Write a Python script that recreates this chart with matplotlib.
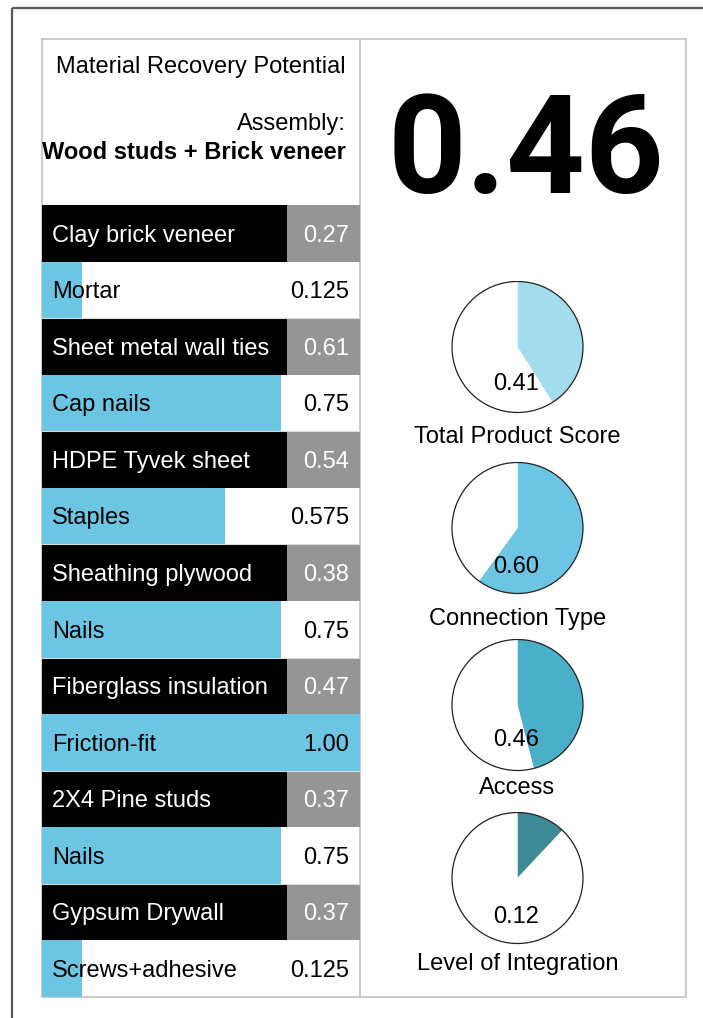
import matplotlib
matplotlib.use("Agg")
import matplotlib.pyplot as plt
from matplotlib.patches import Circle

# ---------------- data ----------------
row_labels = ["Clay brick veneer", "Mortar", "Sheet metal wall ties", "Cap nails",
              "HDPE Tyvek sheet", "Staples", "Sheathing plywood", "Nails",
              "Fiberglass insulation", "Friction-fit", "2X4 Pine studs", "Nails",
              "Gypsum Drywall", "Screws+adhesive"]
row_values = [0.27, 0.125, 0.61, 0.75, 0.54, 0.575, 0.38, 0.75,
              0.47, 1.00, 0.37, 0.75, 0.37, 0.125]
row_value_text = ["0.27", "0.125", "0.61", "0.75", "0.54", "0.575", "0.38", "0.75",
                  "0.47", "1.00", "0.37", "0.75", "0.37", "0.125"]
row_kind = ["material", "connection"] * 7

overall_score = "0.46"
pie_names = ["Total Product Score", "Connection Type", "Access", "Level of Integration"]
pie_values = [0.41, 0.60, 0.46, 0.12]
pie_text = ["0.41", "0.60", "0.46", "0.12"]
pie_colors = ["#a3dcec", "#6cc5e2", "#4aafc8", "#3e8b97"]

title_text = "Material Recovery Potential"
assembly_label = "Assembly:"
assembly_name = "Wood studs + Brick veneer"

# ---------------- layout ----------------
W, H = 703, 1018
fig = plt.figure(figsize=(W / 100, H / 100), dpi=100)
FONT = "Liberation Sans"
FS = 17
BLUE = "#6cc6e3"
GRAY = "#959595"
BORDER = "#c2c2c2"

def fx(x):
    return x / W

def fy(y):
    return 1 - y / H

# base axes in pixel coordinates
base = fig.add_axes([0, 0, 1, 1])
base.set_xlim(0, W)
base.set_ylim(H, 0)
base.axis("off")

# outer dark frame (only top and left visible)
base.plot([12, W + 5], [8, 8], color="#5a5a5a", lw=1.6, solid_capstyle="butt")
base.plot([12, 12], [8, H + 5], color="#5a5a5a", lw=1.6, solid_capstyle="butt")

# inner panel
px0, px1, py0, py1 = 42, 686, 39, 997
base.plot([px0, px1, px1, px0, px0], [py0, py0, py1, py1, py0], color=BORDER, lw=1.2)
base.plot([360, 360], [py0, py1], color=BORDER, lw=1.2)

# header texts
base.text(346, 67, title_text, ha="right", va="center", fontsize=FS, family=FONT)
base.text(346, 124, assembly_label, ha="right", va="center", fontsize=FS, family=FONT)
base.text(346, 152, assembly_name, ha="right", va="center", fontsize=FS,
          family=FONT, fontweight="bold")

# big score
base.text(526, 193, overall_score, ha="center", va="baseline", fontsize=99,
          family="Roboto", fontweight="bold")

# ---------------- table ----------------
tx0, tx1, ty0, ty1 = 42, 360, 205, 997
tab = fig.add_axes([fx(tx0), fy(ty1), fx(tx1) - fx(tx0), fy(ty0) - fy(ty1)])
n = len(row_labels)
tab.set_xlim(0, 1)
tab.set_ylim(n, 0)
tab.axis("off")
split = (286.7 - tx0) / (tx1 - tx0)
for i, (lab, val, vt, kind) in enumerate(zip(row_labels, row_values, row_value_text, row_kind)):
    yc = i + 0.5
    if kind == "material":
        tab.barh(yc, split, height=1.0, left=0, color="black", linewidth=0)
        tab.barh(yc, 1 - split, height=1.0, left=split, color=GRAY, linewidth=0)
        tcol = "white"
    else:
        tab.barh(yc, val, height=1.0, left=0, color=BLUE, linewidth=0)
        tab.plot([0, 1], [i + 1, i + 1], color="#d8d8d8", lw=0.8)
        tcol = "black"
    tab.text(0.031, yc + 0.04, lab, ha="left", va="center", fontsize=FS,
             family=FONT, color=tcol)
    tab.text(0.965, yc + 0.04, vt, ha="right", va="center", fontsize=FS,
             family=FONT, color=tcol)

# ---------------- pies ----------------
pie_cx = 517.5
pie_cy = [347, 528, 705, 878]
value_y = [384, 567, 740, 917]
name_y = [437, 619, 788, 964]
R = 65.5
for v, t, nm, c, cy, vy, ny in zip(pie_values, pie_text, pie_names, pie_colors,
                                    pie_cy, value_y, name_y):
    pa = fig.add_axes([fx(pie_cx - R - 1), fy(cy + R + 1),
                       (2 * R + 2) / W, (2 * R + 2) / H])
    pa.pie([v, 1 - v], colors=[c, "white"], startangle=90, counterclock=False,
           radius=1.0, wedgeprops=dict(linewidth=0))
    pa.add_patch(Circle((0, 0), 1.0, fill=False, edgecolor="#222222", lw=0.9))
    lim = 1.0 * (R + 1) / R
    pa.set_xlim(-lim, lim)
    pa.set_ylim(-lim, lim)
    pa.set_aspect("equal")
    pa.axis("off")
    pa.text(-1.5 / R, -(vy - cy) / R, t, ha="center", va="center", fontsize=FS,
            family=FONT, zorder=10)
    base.text(pie_cx, ny, nm, ha="center", va="center", fontsize=FS, family=FONT)

fig.savefig("out.png", dpi=100)
